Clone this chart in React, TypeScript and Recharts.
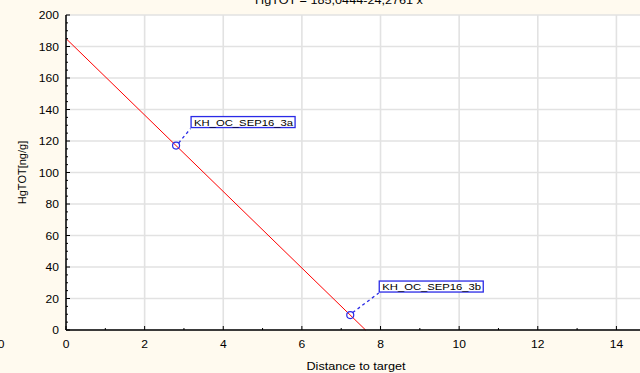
import { ComposedChart, Line, Scatter, XAxis, YAxis, CartesianGrid } from 'recharts';

// #region data
const xTicks = [0, 1, 2, 3, 4, 5, 6, 7, 8, 9, 10, 11, 12, 13, 14];
const xLabels = [0, 2, 4, 6, 8, 10, 12, 14];
const yTicks = [
  0, 5, 10, 15, 20, 25, 30, 35, 40, 45, 50, 55, 60, 65, 70, 75, 80, 85, 90, 95, 100,
  105, 110, 115, 120, 125, 130, 135, 140, 145, 150, 155, 160, 165, 170, 175, 180, 185, 190, 195, 200,
];
const yLabels = [0, 20, 40, 60, 80, 100, 120, 140, 160, 180, 200];

// fitted line HgTOT = 185,0444-24,2761 x, end points
const fitLine = [
  { x: 0, y: 185.04 },
  { x: 7.62, y: 0 },
];

const samples = [
  { x: 2.8, y: 117.1, name: 'KH_OC_SEP16_3a' },
  { x: 7.23, y: 9.5, name: 'KH_OC_SEP16_3b' },
];
// #endregion

const labelOffsets: Record<string, { dx: number; dy: number }> = {
  KH_OC_SEP16_3a: { dx: 15, dy: -29 },
  KH_OC_SEP16_3b: { dx: 29, dy: -34 },
};

const FONT = '"Liberation Sans", Arial, sans-serif';
const BG = '#fffaef';
const BLUE = '#2a2ae6';

const Stretched = ({ x, y, size, anchor = 'start', children }: any) => (
  <text
    transform={`translate(${x},${y}) scale(1.15,1)`}
    textAnchor={anchor}
    fontSize={size}
    fontFamily={FONT}
    fill="#000"
  >
    {children}
  </text>
);

const BottomTick = (props: any) => {
  const { x, y, payload } = props;
  const major = xLabels.includes(payload.value);
  return (
    <g>
      <line x1={x} x2={x} y1={y} y2={y - (major ? 4 : 2)} stroke="#000" strokeWidth={1} />
      {major && (
        <Stretched x={x} y={y + 18} size={10.5} anchor="middle">
          {payload.value}
        </Stretched>
      )}
    </g>
  );
};

const TopTick = (props: any) => {
  const { x, y, payload } = props;
  const major = xLabels.includes(payload.value);
  return <line x1={x} x2={x} y1={y} y2={y + (major ? 4 : 2)} stroke="#000" strokeWidth={1} />;
};

const LeftTick = (props: any) => {
  const { x, y, payload } = props;
  const major = yLabels.includes(payload.value);
  return (
    <g>
      <line x1={x} x2={x + (major ? 4 : 2)} y1={y} y2={y} stroke="#000" strokeWidth={1} />
      {major && (
        <Stretched x={x - 7} y={y + 4} size={10.5} anchor="end">
          {payload.value}
        </Stretched>
      )}
    </g>
  );
};

const SampleMark = (props: any) => {
  const { cx, cy, payload } = props;
  const off = labelOffsets[payload.name] || { dx: 15, dy: -30 };
  const bx = cx + off.dx;
  const by = cy + off.dy;
  const w = 104;
  const h = 11;
  return (
    <g>
      <line
        x1={cx + 2.5}
        y1={cy - 2.5}
        x2={bx - 0.5}
        y2={by + h + 1}
        stroke={BLUE}
        strokeWidth={1.3}
        strokeDasharray="3 3"
      />
      <circle cx={cx} cy={cy} r={3.5} fill="none" stroke={BLUE} strokeWidth={1.2} />
      <rect x={bx} y={by} width={w} height={h} fill="#fff" stroke={BLUE} strokeWidth={1.3} />
      <Stretched x={bx + 3} y={by + 9} size={9.8}>
        {payload.name}
      </Stretched>
    </g>
  );
};

const XTitle = (props: any) => {
  const vb = props.viewBox;
  return (
    <Stretched x={vb.x + vb.width / 2 + 3} y={370} size={11} anchor="middle">
      Distance to target
    </Stretched>
  );
};

const YTitle = (props: any) => {
  const vb = props.viewBox;
  const cy = vb.y + vb.height / 2;
  return (
    <text
      transform={`translate(26,${cy}) rotate(-90)`}
      textAnchor="middle"
      fontSize={11}
      fontFamily={FONT}
      fill="#000"
    >
      HgTOT[ng/g]
    </text>
  );
};

export default function App() {
  return (
    <div style={{ position: 'absolute', left: 0, top: 0, width: 640, height: 373, background: BG, overflow: 'hidden' }}>
      <ComposedChart width={640} height={373} margin={{ top: 15, right: 0, left: 8, bottom: 0 }}>
        <CartesianGrid
          xAxisId="x"
          yAxisId="y"
          verticalValues={xLabels}
          horizontalValues={yLabels}
          stroke="#e2e2e2"
          strokeWidth={1.6}
          fill="#ffffff"
          fillOpacity={1}
        />
        <XAxis
          xAxisId="x"
          dataKey="x"
          type="number"
          domain={[0, 14.6]}
          ticks={xTicks}
          interval={0}
          tickSize={0}
          tickMargin={0}
          tick={BottomTick}
          axisLine={{ stroke: '#000', strokeWidth: 1.5 }}
          height={43}
          label={{ content: XTitle }}
        />
        <XAxis
          xAxisId="top"
          orientation="top"
          dataKey="x"
          type="number"
          domain={[0, 14.6]}
          ticks={xTicks}
          interval={0}
          tickSize={0}
          tickMargin={0}
          tick={TopTick}
          axisLine={{ stroke: '#000', strokeWidth: 1.5 }}
          height={0}
        />
        <YAxis
          yAxisId="y"
          type="number"
          domain={[0, 200]}
          ticks={yTicks}
          interval={0}
          tickSize={0}
          tickMargin={0}
          tick={LeftTick}
          axisLine={{ stroke: '#000', strokeWidth: 1.5 }}
          width={58}
          label={{ content: YTitle }}
        />
        <Line
          xAxisId="x"
          yAxisId="y"
          data={fitLine}
          dataKey="y"
          stroke="#ff0000"
          strokeWidth={1}
          dot={false}
          activeDot={false}
          isAnimationActive={false}
        />
        <Scatter
          xAxisId="x"
          yAxisId="y"
          data={samples}
          dataKey="y"
          shape={SampleMark}
          isAnimationActive={false}
        />
        <Stretched x={339} y={4} size={11} anchor="middle">
          HgTOT = 185,0444-24,2761 x
        </Stretched>
        <Stretched x={1} y={348} size={10.5} anchor="middle">
          0
        </Stretched>
      </ComposedChart>
    </div>
  );
}
